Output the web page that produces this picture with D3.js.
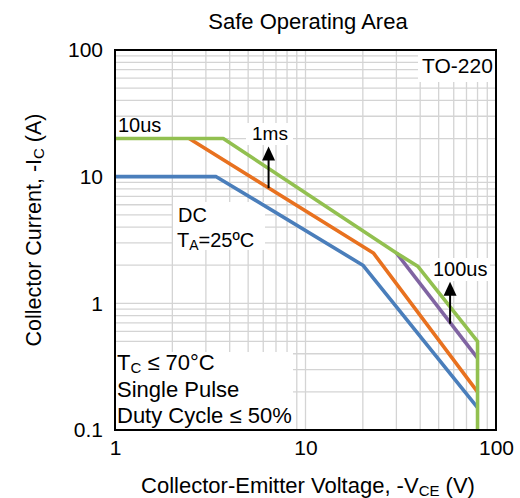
<!DOCTYPE html>
<html>
<head>
<meta charset="utf-8">
<script src="https://cdn.jsdelivr.net/npm/d3@7"></script>
<style>
  body { margin: 0; background: #fff; }
  text { font-family: "Liberation Sans", Arial, sans-serif; fill: #000; }
</style>
</head>
<body>
<svg id="chart" width="520" height="498"></svg>
<script>
// axis ticks
const xTicks = [1, 10, 100];
const xTickLabels = ["1", "10", "100"];
const yTicks = [0.1, 1, 10, 100];
const yTickLabels = ["0.1", "1", "10", "100"];

// SOA curves (V in volts, I in amps)
const dcV = [1, 3.4, 20, 80];
const dcI = [10, 10, 2, 0.15];
const ms1V = [2.45, 22.7, 80];
const ms1I = [20, 2.5, 0.2];
const us100V = [30, 80];
const us100I = [2.5, 0.37];
const us10V = [1, 3.7, 30, 39, 80, 80];
const us10I = [20, 20, 2.5, 1.95, 0.5, 0.1];

// arrows: [V, I from, I to]
const arrow1ms = [6.4, 8.1, 17.3];
const arrow100us = [57.4, 0.69, 1.48];

const series = [
  { v: dcV, i: dcI, color: "#4a7ebb" },
  { v: ms1V, i: ms1I, color: "#e8711f" },
  { v: us100V, i: us100I, color: "#8064a2" },
  { v: us10V, i: us10I, color: "#92c050" },
];

const pLeft = 115, pRight = 496, pTop = 50, pBottom = 430;
const svg = d3.select("#chart");

const x = d3.scaleLog().domain([1, 100]).range([pLeft, pRight]);
const y = d3.scaleLog().domain([0.1, 100]).range([pBottom, pTop]);

//grid
const grid = svg.append("g").attr("stroke", "#d4d4d4").attr("stroke-width", 1.3);
grid.selectAll(".gx").data(x.ticks()).join("line")
  .attr("x1", d => x(d)).attr("x2", d => x(d))
  .attr("y1", pTop).attr("y2", pBottom);
grid.selectAll(".gy").data(y.ticks()).join("line")
  .attr("x1", pLeft).attr("x2", pRight)
  .attr("y1", d => y(d)).attr("y2", d => y(d));

//white label boxes hiding the grid
function box(x0, y0, w, h) {
  svg.append("rect").attr("x", x0).attr("y", y0).attr("width", w).attr("height", h).attr("fill", "#fff");
}
box(418, pTop, pRight - 418, 32);
box(246, 123, 47, 22);
box(430, 258, 60, 23);
box(173, 202, 92, 48);
box(pLeft, 352, 178, pBottom - 352);

//curves
const line = d3.line().x(d => x(d[0])).y(d => y(d[1]));
svg.append("g").selectAll("path").data(series).join("path")
  .attr("d", s => line(d3.zip(s.v, s.i)))
  .attr("fill", "none")
  .attr("stroke", s => s.color)
  .attr("stroke-width", 3.6)
  .attr("stroke-linejoin", "round");

//arrows
function arrow(a) {
  const ax = x(a[0]), y0 = y(a[1]), y1 = y(a[2]);
  svg.append("line").attr("x1", ax).attr("x2", ax).attr("y1", y0).attr("y2", y1 + 10)
    .attr("stroke", "#000").attr("stroke-width", 2);
  svg.append("path")
    .attr("d", `M${ax},${y1} L${ax - 6.5},${y1 + 14} L${ax + 6.5},${y1 + 14} Z`)
    .attr("fill", "#000");
}
arrow(arrow1ms);
arrow(arrow100us);

//frame
svg.append("rect").attr("x", pLeft).attr("y", pTop)
  .attr("width", pRight - pLeft).attr("height", pBottom - pTop)
  .attr("fill", "none").attr("stroke", "#000").attr("stroke-width", 2);

//axes labels
svg.append("g").attr("transform", `translate(0,${pBottom})`)
  .call(d3.axisBottom(x).tickValues(xTicks).tickFormat((d, i) => xTickLabels[i]).tickSize(0).tickPadding(9))
  .call(g => g.select(".domain").remove())
  .selectAll("text").attr("font-size", 21).attr("dy", "0.75em")
  .style("font-family", "'Liberation Sans', Arial, sans-serif").attr("fill", "#000");

svg.append("g").attr("transform", `translate(${pLeft},0)`)
  .call(d3.axisLeft(y).tickValues(yTicks).tickFormat((d, i) => yTickLabels[i]).tickSize(0).tickPadding(12))
  .call(g => g.select(".domain").remove())
  .selectAll("text").attr("font-size", 21)
  .style("font-family", "'Liberation Sans', Arial, sans-serif").attr("fill", "#000");

//title
svg.append("text").attr("x", 308).attr("y", 29).attr("text-anchor", "middle")
  .attr("font-size", 22).text("Safe Operating Area");

//x label
const xl = svg.append("text").attr("x", 308).attr("y", 493).attr("text-anchor", "middle").attr("font-size", 22);
xl.append("tspan").text("Collector-Emitter Voltage, -V");
xl.append("tspan").attr("font-size", 15).attr("dy", 3).text("CE");
xl.append("tspan").attr("dy", -3).text(" (V)");

//y label
const yl = svg.append("text").attr("transform", "translate(41,230) rotate(-90)")
  .attr("text-anchor", "middle").attr("font-size", 21.5);
yl.append("tspan").text("Collector Current, -I");
yl.append("tspan").attr("font-size", 15).attr("dy", 3).text("C");
yl.append("tspan").attr("dy", -3).text(" (A)");

//annotations
svg.append("text").attr("x", 118).attr("y", 132).attr("font-size", 20).text("10us");
svg.append("text").attr("x", 252).attr("y", 140).attr("font-size", 19).text("1ms");
svg.append("text").attr("x", 433).attr("y", 276).attr("font-size", 20).text("100us");
svg.append("text").attr("x", 422).attr("y", 73).attr("font-size", 21).text("TO-220");

svg.append("text").attr("x", 178).attr("y", 222).attr("font-size", 20).text("DC");
const ta = svg.append("text").attr("x", 177).attr("y", 247).attr("font-size", 20);
ta.append("tspan").text("T");
ta.append("tspan").attr("font-size", 14).attr("dy", 3).text("A");
ta.append("tspan").attr("dy", -3).text("=25ºC");

const tc = svg.append("text").attr("x", 117).attr("y", 370).attr("font-size", 22);
tc.append("tspan").text("T");
tc.append("tspan").attr("font-size", 15).attr("dy", 3).text("C");
tc.append("tspan").attr("dy", -3).text(" ≤ 70°C");
svg.append("text").attr("x", 117).attr("y", 397).attr("font-size", 22).text("Single Pulse");
svg.append("text").attr("x", 117).attr("y", 423).attr("font-size", 22).text("Duty Cycle ≤ 50%");
</script>
</body>
</html>
